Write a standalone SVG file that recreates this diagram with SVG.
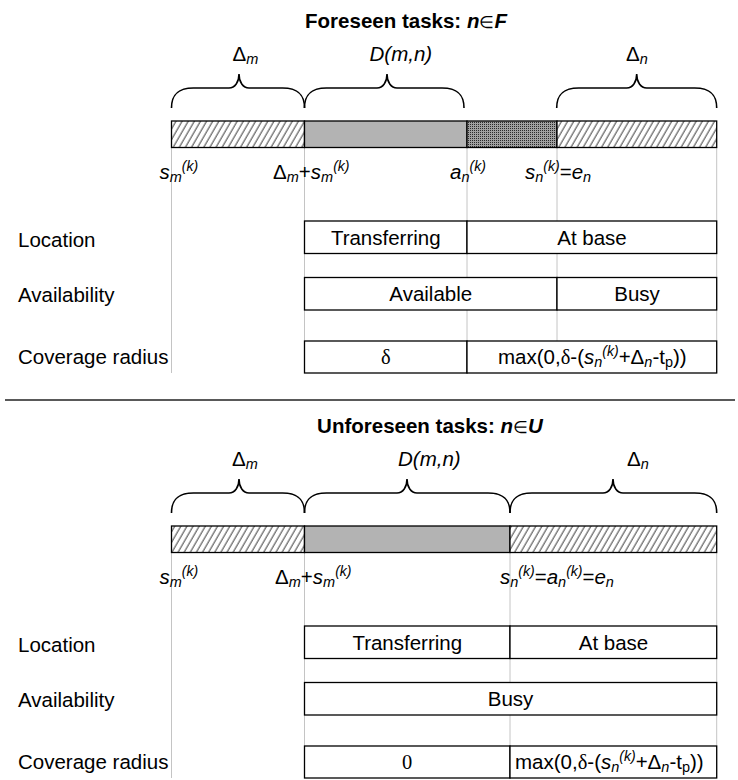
<svg xmlns="http://www.w3.org/2000/svg" width="738" height="780" viewBox="0 0 738 780">
<style>
.t{font-family:"Liberation Sans",Arial,sans-serif;font-size:20.5px;fill:#000}
.b{font-weight:bold}
.i{font-style:italic}
.el{font-weight:normal;font-size:17px}
.sub{font-size:14.5px;font-style:italic}
.sup{font-size:14px;font-style:italic}
.subr{font-size:14.5px}
.serif{font-family:"Liberation Serif","Times New Roman",serif}
.m{text-anchor:middle}
.box{fill:#fff;stroke:#000;stroke-width:1.3}
.guide{stroke:#c4c4c4;stroke-width:1;fill:none}
.brace{fill:none;stroke:#000;stroke-width:1.6}
.seg{stroke:#000;stroke-width:1.3}
</style>
<defs>
<pattern id="hatch" patternUnits="userSpaceOnUse" width="5.3" height="10" patternTransform="rotate(30)">
<rect width="5.3" height="10" fill="#fff"/>
<line x1="1" y1="0" x2="1" y2="10" stroke="#000" stroke-width="0.8"/>
</pattern>
<pattern id="stipple" patternUnits="userSpaceOnUse" width="2" height="2">
<rect width="2" height="2" fill="#a0a0a0"/>
<rect width="1" height="1" fill="#2a2a2a"/>
</pattern>
</defs>
<rect width="738" height="780" fill="#fff"/>

<g id="connectors">
<g id="guides-top">
<line class="guide" x1="171.5" y1="147" x2="171.5" y2="373"/>
<line class="guide" x1="304.5" y1="147" x2="304.5" y2="373"/>
<line class="guide" x1="467" y1="147" x2="467" y2="373"/>
<line class="guide" x1="557" y1="147" x2="557" y2="373"/>
<line class="guide" x1="716.7" y1="147" x2="716.7" y2="373"/>
</g>
<g id="guides-bottom">
<line class="guide" x1="171.5" y1="553" x2="171.5" y2="778"/>
<line class="guide" x1="304.5" y1="553" x2="304.5" y2="778"/>
<line class="guide" x1="510" y1="553" x2="510" y2="778"/>
<line class="guide" x1="716.7" y1="553" x2="716.7" y2="778"/>
</g>
<g id="braces-top">
<path class="brace" d="M171.5 108 C171.5 96 176.5 88 193.5 88 L229 88 C235 88 239 82 239 74 C239 82 243 88 249 88 L282.5 88 C299.5 88 304.5 96 304.5 108"/>
<path class="brace" d="M304.5 108 C304.5 96 309.5 88 326.5 88 L377 88 C383 88 387 82 387 74 C387 82 391 88 397 88 L442 88 C459 88 464 96 464 108"/>
<path class="brace" d="M556.7 108 C556.7 96 561.7 88 578.7 88 L626.7 88 C632.7 88 636.7 82 636.7 74 C636.7 82 640.7 88 646.7 88 L694.7 88 C711.7 88 716.7 96 716.7 108"/>
</g>
<g id="braces-bottom">
<path class="brace" d="M171.5 513 C171.5 501 176.5 493 193.5 493 L229 493 C235 493 239 487 239 479 C239 487 243 493 249 493 L282.5 493 C299.5 493 304.5 501 304.5 513"/>
<path class="brace" d="M304.5 513 C304.5 501 309.5 493 326.5 493 L397 493 C403 493 407 487 407 479 C407 487 411 493 417 493 L488 493 C505 493 510 501 510 513"/>
<path class="brace" d="M510 513 C510 501 515 493 532 493 L603 493 C609 493 613 487 613 479 C613 487 617 493 623 493 L694.7 493 C711.7 493 716.7 501 716.7 513"/>
</g>
<line id="separator" x1="5" y1="400" x2="735" y2="400" stroke="#222" stroke-width="1.5"/>
</g>

<g id="top-title"><text class="t b m" x="406" y="28">Foreseen tasks: <tspan class="i">n</tspan><tspan class="el">∈</tspan><tspan class="i">F</tspan></text></g>
<g id="top-brace-labels">
<text class="t" x="232.5" y="61">Δ<tspan class="sub" dy="3">m</tspan></text>
<text class="t i" x="369.5" y="61">D(m,n)</text>
<text class="t" x="626" y="61">Δ<tspan class="sub" dy="3">n</tspan></text>
</g>
<g id="top-bar">
<rect x="171.5" y="121" width="133" height="26.5" fill="url(#hatch)" class="seg"/>
<rect x="304.5" y="121" width="162.5" height="26.5" fill="#b3b3b3" class="seg"/>
<rect x="467" y="121" width="90" height="26.5" fill="url(#stipple)" class="seg"/>
<rect x="557" y="121" width="159.7" height="26.5" fill="url(#hatch)" class="seg"/>
</g>
<g id="top-time-labels">
<text class="t i" x="159.5" y="179">s<tspan class="sub" dy="3">m</tspan><tspan class="sup" dy="-11">(k)</tspan></text>
<text class="t" x="273" y="179">Δ<tspan class="sub" dy="3">m</tspan><tspan dy="-3">+</tspan><tspan class="i">s</tspan><tspan class="sub" dy="3">m</tspan><tspan class="sup" dy="-11">(k)</tspan></text>
<text class="t i" x="450" y="179">a<tspan class="sub" dy="3">n</tspan><tspan class="sup" dy="-11">(k)</tspan></text>
<text class="t" x="525" y="179"><tspan class="i">s</tspan><tspan class="sub" dy="3">n</tspan><tspan class="sup" dy="-11">(k)</tspan><tspan dy="8">=</tspan><tspan class="i">e</tspan><tspan class="sub" dy="3">n</tspan></text>
</g>
<g id="top-row-labels">
<text class="t" x="18" y="247">Location</text>
<text class="t" x="18" y="302">Availability</text>
<text class="t" x="18" y="364">Coverage radius</text>
</g>
<g id="top-location">
<rect class="box" x="304.5" y="221" width="162.5" height="32.5"/>
<text class="t m" x="385.75" y="245">Transferring</text>
<rect class="box" x="467" y="221" width="249.7" height="32.5"/>
<text class="t m" x="592" y="245">At base</text>
</g>
<g id="top-availability">
<rect class="box" x="304.5" y="277.5" width="252.5" height="32.5"/>
<text class="t m" x="430.75" y="301">Available</text>
<rect class="box" x="557" y="277.5" width="159.7" height="32.5"/>
<text class="t m" x="637" y="301">Busy</text>
</g>
<g id="top-coverage">
<rect class="box" x="304.5" y="341" width="162.5" height="32"/>
<text class="t serif m" x="385.75" y="364">δ</text>
<rect class="box" x="467" y="341" width="249.7" height="32"/>
<text class="t" x="498" y="364">max(0,<tspan class="serif">δ</tspan>-(<tspan class="i">s</tspan><tspan class="sub" dy="3">n</tspan><tspan class="sup" dy="-11">(k)</tspan><tspan dy="8">+Δ</tspan><tspan class="sub" dy="3">n</tspan><tspan dy="-3">-t</tspan><tspan class="subr" dy="3">p</tspan><tspan dy="-3">))</tspan></text>
</g>

<g id="bottom-title"><text class="t b m" x="430" y="433">Unforeseen tasks: <tspan class="i">n</tspan><tspan class="el">∈</tspan><tspan class="i">U</tspan></text></g>
<g id="bottom-brace-labels">
<text class="t" x="232" y="466">Δ<tspan class="sub" dy="3">m</tspan></text>
<text class="t i" x="398" y="466">D(m,n)</text>
<text class="t" x="627" y="466">Δ<tspan class="sub" dy="3">n</tspan></text>
</g>
<g id="bottom-bar">
<rect x="171.5" y="526" width="133" height="26.5" fill="url(#hatch)" class="seg"/>
<rect x="304.5" y="526" width="205.5" height="26.5" fill="#b3b3b3" class="seg"/>
<rect x="510" y="526" width="206.7" height="26.5" fill="url(#hatch)" class="seg"/>
</g>
<g id="bottom-time-labels">
<text class="t i" x="159.5" y="584">s<tspan class="sub" dy="3">m</tspan><tspan class="sup" dy="-11">(k)</tspan></text>
<text class="t" x="275" y="584">Δ<tspan class="sub" dy="3">m</tspan><tspan dy="-3">+</tspan><tspan class="i">s</tspan><tspan class="sub" dy="3">m</tspan><tspan class="sup" dy="-11">(k)</tspan></text>
<text class="t" x="500" y="584"><tspan class="i">s</tspan><tspan class="sub" dy="3">n</tspan><tspan class="sup" dy="-11">(k)</tspan><tspan dy="8">=</tspan><tspan class="i">a</tspan><tspan class="sub" dy="3">n</tspan><tspan class="sup" dy="-11">(k)</tspan><tspan dy="8">=</tspan><tspan class="i">e</tspan><tspan class="sub" dy="3">n</tspan></text>
</g>
<g id="bottom-row-labels">
<text class="t" x="18" y="652">Location</text>
<text class="t" x="18" y="707">Availability</text>
<text class="t" x="18" y="769">Coverage radius</text>
</g>
<g id="bottom-location">
<rect class="box" x="304.5" y="626" width="205.5" height="32.5"/>
<text class="t m" x="407.25" y="650">Transferring</text>
<rect class="box" x="510" y="626" width="206.7" height="32.5"/>
<text class="t m" x="613.5" y="650">At base</text>
</g>
<g id="bottom-availability">
<rect class="box" x="304.5" y="682.5" width="412.2" height="32.5"/>
<text class="t m" x="510.6" y="706">Busy</text>
</g>
<g id="bottom-coverage">
<rect class="box" x="304.5" y="746" width="205.5" height="32"/>
<text class="t serif m" x="407" y="769">0</text>
<rect class="box" x="510" y="746" width="206.7" height="32"/>
<text class="t" x="515" y="769">max(0,<tspan class="serif">δ</tspan>-(<tspan class="i">s</tspan><tspan class="sub" dy="3">n</tspan><tspan class="sup" dy="-11">(k)</tspan><tspan dy="8">+Δ</tspan><tspan class="sub" dy="3">n</tspan><tspan dy="-3">-t</tspan><tspan class="subr" dy="3">p</tspan><tspan dy="-3">))</tspan></text>
</g>
</svg>
